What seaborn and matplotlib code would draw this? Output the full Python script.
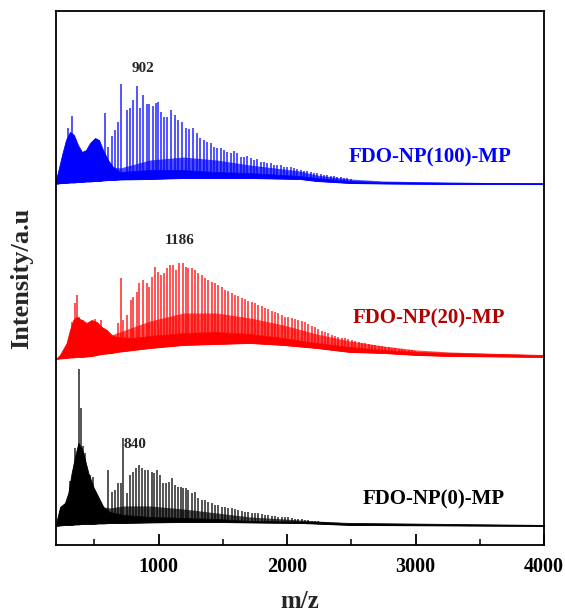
import numpy as np
import matplotlib
matplotlib.use("Agg")
import matplotlib.pyplot as plt
import seaborn as sns
from matplotlib.ticker import MultipleLocator

sns.set_theme(style="ticks")
plt.rcParams['font.family'] = ['Liberation Serif', 'DejaVu Serif']
plt.rcParams['font.weight'] = 'bold'

# ---- FDO-NP(0)-MP (black) ----
black_env_mz = [200, 234, 272, 298, 324, 350, 376, 402, 428, 454, 493, 532, 571, 622, 726, 934, 1193, 1452, 1711, 2100, 2490, 3267, 4000]
black_env_lo = [0, 0.5, 1, 1, 1, 1.5, 1.5, 2, 2, 2, 2, 2.5, 2.5, 3, 3, 3.5, 4, 4, 3.5, 3, 1, 0.5, 0]
black_env_hi = [1, 19, 23, 33, 53, 69, 83, 78, 66, 53, 39, 29, 19, 14, 11, 9, 8, 7, 5, 4.5, 3, 2, 1]
black_env_mid = [1, 19, 23, 33, 53, 69, 83, 78, 66, 53, 39, 29, 19, 18, 20, 20, 17, 13, 9, 6, 3, 2, 1]
black_peak_mz = [311, 350, 381, 394, 410, 425, 446, 467, 488, 604, 635, 661, 687, 705, 721, 752, 778, 804, 825,
                 851, 869, 895, 921, 947, 965, 991, 1011, 1037, 1058, 1079, 1102, 1128, 1149, 1172, 1193, 1214,
                 1232, 1258, 1284, 1310, 1336, 1361, 1387, 1413, 1439, 1465, 1491, 1517, 1543, 1569, 1595, 1621,
                 1647, 1673, 1699, 1725, 1750, 1776, 1802, 1828, 1854, 1880, 1906, 1932, 1958, 1984, 2010, 2036,
                 2062, 2088, 2114, 2140, 2166, 2192, 2218, 2244, 2270, 2296, 2322, 2348, 2374, 2400]
black_peak_h = [45, 78, 157, 118, 80, 73, 56, 51, 49, 56, 34, 36, 43, 43, 88, 33, 51, 54, 58,
                61, 58, 56, 56, 54, 53, 56, 51, 43, 43, 44, 48, 41, 39, 39, 38, 38,
                36, 33, 34, 28, 26, 26, 24, 23, 21, 21, 19, 19, 18, 18, 17, 16,
                15, 14, 14, 13, 13, 13, 12, 11, 11, 10, 10, 9, 9, 9, 9, 8,
                7, 7, 7, 6, 6, 5, 5, 5, 4, 4, 4, 3, 3, 3]

# ---- FDO-NP(20)-MP (red) ----
red_env_mz = [200, 233, 285, 311, 337, 363, 402, 441, 480, 519, 558, 597, 635, 674, 804, 934, 1193, 1452, 1711, 1971, 2230, 2490, 2749, 3008, 3267, 4000]
red_env_lo = [0, 0.5, 1, 1.5, 1.5, 2, 2, 2.5, 3, 4, 5, 5.5, 6, 7, 9, 11, 14, 15, 16, 14, 11, 7, 6, 4, 3, 2]
red_env_hi = [0, 4, 16, 29, 39, 42, 39, 36, 39, 37, 32, 29, 24, 22, 21, 23, 26, 27, 25, 21, 16, 12, 9, 7, 6, 4]
red_env_mid = [0, 4, 16, 29, 39, 42, 39, 36, 39, 37, 32, 29, 24, 26, 32, 38, 46, 46, 41, 34, 25, 18, 13, 9, 7, 4]
red_peak_mz = [324, 350, 368, 384, 415, 506, 550, 687, 705, 726, 757, 783, 804, 830, 851, 877, 908, 928, 949,
               972, 998, 1019, 1042, 1068, 1089, 1115, 1136, 1162, 1188, 1211, 1232, 1258, 1284, 1310, 1336,
               1361, 1387, 1413, 1439, 1465, 1491, 1517, 1543, 1569, 1595, 1621, 1647, 1673, 1699, 1725, 1750,
               1776, 1802, 1828, 1854, 1880, 1906, 1932, 1958, 1984, 2010, 2036, 2062, 2088, 2114, 2140, 2166,
               2192, 2218, 2244, 2270, 2296, 2322, 2348, 2374, 2400, 2426, 2452, 2478, 2504, 2530, 2556, 2582,
               2608, 2634, 2660, 2686, 2712, 2738, 2764, 2790, 2816, 2842, 2868, 2894, 2920, 2946, 2972, 2998]
red_peak_h = [37, 56, 64, 42, 39, 40, 39, 36, 81, 39, 44, 59, 62, 67, 76, 79, 76, 72, 82,
              92, 87, 84, 86, 91, 94, 94, 89, 96, 96, 92, 91, 91, 89, 86, 84,
              81, 79, 77, 76, 74, 72, 69, 68, 66, 64, 63, 61, 60, 58, 57, 56,
              54, 53, 51, 50, 48, 47, 46, 44, 42, 42, 41, 40, 39, 38, 37, 35,
              33, 32, 30, 28, 27, 26, 24, 23, 22, 21, 21, 20, 19, 18, 17, 16,
              16, 15, 14, 14, 13, 13, 12, 12, 11, 11, 10, 10, 9, 9, 9, 8]

# ---- FDO-NP(100)-MP (blue) ----
blue_env_mz = [200, 218, 249, 280, 311, 342, 373, 405, 436, 467, 506, 537, 568, 607, 646, 700, 934, 1193, 1452, 1711, 2100, 2230, 2490, 2749, 3267, 4000]
blue_env_lo = [0, 0.5, 1, 1, 1.5, 1.5, 2, 2, 2.5, 2.5, 3, 3, 3.5, 4, 4, 4.5, 5, 6, 6, 6, 5, 3, 1, 0.5, 0, 0]
blue_env_hi = [4, 12, 29, 44, 52, 49, 39, 32, 34, 41, 46, 44, 34, 24, 17, 12, 14, 14, 12, 11, 8, 6, 3, 2, 1.3, 0.7]
blue_env_mid = [4, 12, 29, 44, 52, 49, 39, 32, 34, 41, 46, 44, 34, 24, 17, 16, 24, 27, 24, 19, 13, 9, 5, 3, 1.8, 1]
blue_peak_mz = [298, 324, 584, 610, 635, 661, 687, 705, 752, 778, 804, 835, 856, 882, 908, 928, 954, 980, 998, 1020,
                1042, 1068, 1094, 1128, 1154, 1180, 1214, 1240, 1266, 1297, 1323, 1354, 1380, 1406, 1431, 1457,
                1483, 1509, 1535, 1561, 1587, 1613, 1639, 1665, 1691, 1717, 1743, 1769, 1795, 1820, 1846, 1872,
                1898, 1924, 1950, 1976, 2002, 2028, 2054, 2080, 2106, 2132, 2158, 2184, 2210, 2236, 2262, 2288,
                2314, 2340, 2366, 2392, 2418, 2444, 2470, 2496]
blue_peak_h = [56, 68, 71, 37, 48, 54, 62, 100, 74, 76, 84, 98, 76, 89, 80, 80, 78, 81, 82, 72,
               67, 67, 74, 69, 64, 62, 56, 55, 56, 51, 46, 44, 42, 41, 37, 36,
               36, 34, 32, 31, 33, 31, 27, 27, 28, 26, 24, 25, 22, 22, 21, 21,
               19, 19, 19, 17, 17, 17, 16, 15, 14, 13, 13, 12, 11, 11, 10, 9,
               9, 8, 8, 7, 7, 6, 6, 5]

offsets = {'black': 19, 'red': 186, 'blue': 361}

traces = [
    ('black', '#000000', black_env_mz, black_env_lo, black_env_hi, black_env_mid, black_peak_mz, black_peak_h),
    ('red', '#ff0000', red_env_mz, red_env_lo, red_env_hi, red_env_mid, red_peak_mz, red_peak_h),
    ('blue', '#0000ff', blue_env_mz, blue_env_lo, blue_env_hi, blue_env_mid, blue_peak_mz, blue_peak_h),
]

fig = plt.figure(figsize=(5.65, 6.13), dpi=100)
ax = fig.add_axes([0.0986, 0.111, 0.8644, 0.871])

for name, c, env_mz, lo, hi, mid, pk_mz, pk_h in traces:
    off = offsets[name]
    env_mz = np.array(env_mz, float)
    lo = off + np.array(lo, float)
    hi = off + np.array(hi, float)
    mid = off + np.array(mid, float)
    ax.fill_between(env_mz, lo, hi, color=c, lw=0.6)
    ax.fill_between(env_mz, hi, mid, color=c, alpha=0.7, lw=0)
    foot = np.interp(pk_mz, env_mz, lo)
    ax.vlines(pk_mz, foot, off + np.array(pk_h, float), color=c, lw=1.1, alpha=0.85)
    sns.lineplot(x=env_mz, y=lo, color=c, lw=0.8, ax=ax)

ax.set_xlim(200, 4000)
ax.set_ylim(0, 534)
ax.set_yticks([])
ax.xaxis.set_major_locator(MultipleLocator(1000))
ax.xaxis.set_minor_locator(MultipleLocator(500))
ax.tick_params(axis='x', which='major', direction='in', length=8, width=1.3, pad=9,
               labelsize=14.5, colors='black')
ax.tick_params(axis='x', which='minor', direction='in', length=4, width=1.3)
for lab in ax.get_xticklabels():
    lab.set_fontweight('bold')
for s in ax.spines.values():
    s.set_linewidth(1.3)
    s.set_color('black')

ax.set_xlabel('m/z', fontsize=18, fontweight='bold', labelpad=9)
ax.set_ylabel('Intensity/a.u', fontsize=19, fontweight='bold', labelpad=16)

ax.text(879, 477, '902', fontsize=11, fontweight='bold', ha='center', va='center')
ax.text(1167, 305, '1186', fontsize=11, fontweight='bold', ha='center', va='center')
ax.text(731, 100, '840', fontsize=11, fontweight='bold', ha='left', va='center')

ax.text(3116, 388, 'FDO-NP(100)-MP', fontsize=15, fontweight='bold', color='#0000ff', ha='center', va='center')
ax.text(3100, 227, 'FDO-NP(20)-MP', fontsize=15, fontweight='bold', color='#b00000', ha='center', va='center')
ax.text(3139, 45, 'FDO-NP(0)-MP', fontsize=15, fontweight='bold', color='black', ha='center', va='center')

fig.savefig('out.png', dpi=100)
